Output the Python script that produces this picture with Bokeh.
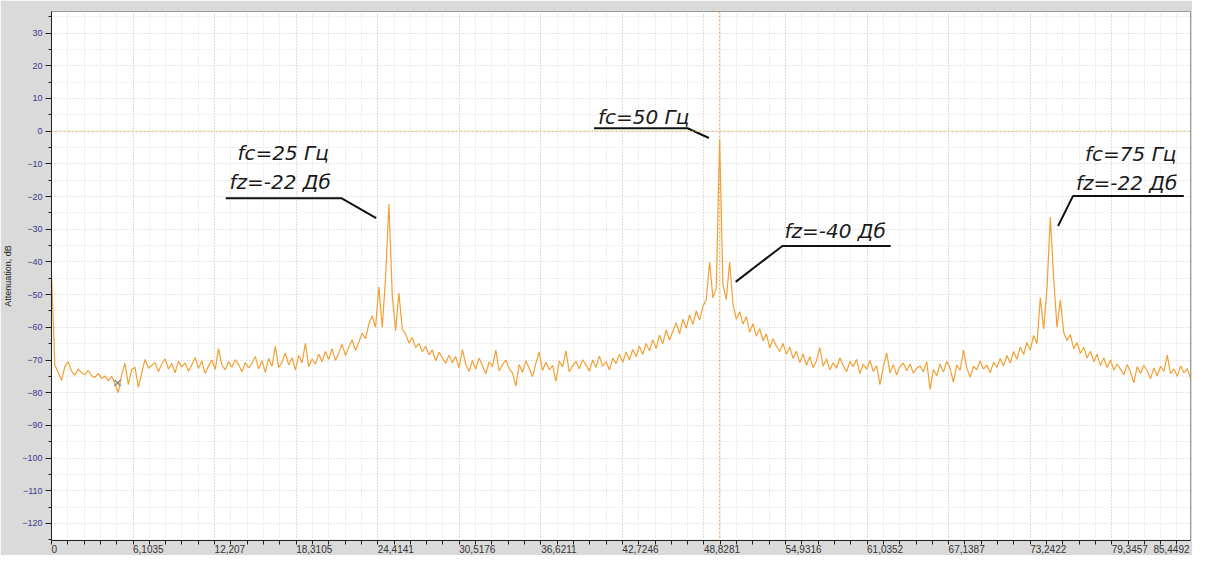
import numpy as np
from bokeh.plotting import figure
from bokeh.models import FixedTicker, Span, Range1d, ColumnDataSource
from bokeh.core.properties import value
from bokeh.embed import file_html
from bokeh.resources import INLINE

# ---------------- data ----------------
bin_step_hz = 0.25
attenuation_db = [
    -44.0, -71.5, -73.8, -76.2, -72.0, -70.5, -73.4, -74.6, -72.8, -73.9, -74.5, -73.2, -74.8, -75.3, -74.1, -75.6, -74.9, -76.3, -75.0, -77.2,
    -80.0, -74.5, -71.0, -77.5, -73.0, -72.2, -78.4, -74.0, -69.8, -72.5, -71.6, -70.8, -73.5, -71.2, -69.6, -72.8, -71.0, -73.9, -70.4, -72.1,
    -70.9, -73.4, -71.5, -69.2, -72.6, -70.3, -74.1, -71.8, -70.0, -72.9, -66.5, -71.6, -73.0, -70.5, -72.2, -69.9, -71.4, -73.6, -70.8, -72.4,
    -71.1, -68.9, -72.7, -70.2, -73.8, -69.5, -71.9, -65.8, -72.3, -70.6, -67.8, -71.5, -69.3, -73.1, -68.6, -70.9, -64.9, -72.0, -69.7, -71.3,
    -68.2, -70.5, -67.4, -69.8, -66.5, -70.1, -67.9, -65.2, -68.6, -66.0, -63.8, -67.1, -64.5, -61.8, -63.5, -59.0, -56.5, -60.0, -47.6, -60.0,
    -45.0, -22.3, -50.0, -61.0, -49.5, -60.5, -62.0, -64.8, -63.1, -66.2, -64.9, -67.5, -65.8, -68.4, -66.9, -70.2, -67.6, -69.3, -71.0, -68.5,
    -70.8, -68.9, -72.4, -66.8, -71.2, -73.5, -70.1, -72.8, -69.4, -71.7, -74.2, -70.6, -72.0, -67.0, -73.3, -71.5, -70.0, -72.6, -74.0, -78.0,
    -71.4, -73.8, -70.2, -72.5, -75.1, -71.0, -67.5, -73.2, -70.7, -72.9, -71.6, -76.5, -70.3, -72.1, -67.2, -73.6, -71.8, -70.4, -72.7, -69.9,
    -71.5, -73.4, -70.0, -72.2, -68.8, -71.9, -70.5, -73.0, -69.4, -71.1, -68.2, -70.7, -67.6, -69.9, -66.8, -69.0, -65.7, -68.3, -64.9, -67.2,
    -63.8, -66.5, -62.4, -65.0, -60.8, -63.9, -61.2, -58.6, -62.0, -57.5, -60.3, -56.2, -59.1, -55.0, -57.8, -53.6, -51.5, -40.0, -51.0, -48.0,
    -2.5, -47.0, -51.5, -40.0, -53.0, -57.5, -55.2, -59.0, -56.8, -61.5, -58.9, -62.7, -60.4, -64.1, -62.0, -66.3, -63.5, -65.8, -67.4, -64.9,
    -68.2, -66.0, -69.5, -67.3, -70.8, -68.1, -71.6, -69.0, -72.4, -70.2, -66.2, -71.9, -69.6, -73.0, -70.8, -72.5, -69.3, -71.7, -73.6, -70.4,
    -72.0, -69.8, -74.1, -71.3, -72.8, -70.1, -73.5, -71.7, -77.5, -72.2, -67.8, -73.9, -71.4, -74.6, -72.0, -70.9, -73.3, -71.2, -74.0, -72.5,
    -71.8, -73.6, -70.5, -79.0, -72.9, -74.8, -71.2, -73.7, -70.4, -72.6, -76.8, -71.5, -73.2, -67.0, -72.4, -75.3, -71.9, -73.0, -70.2, -72.8,
    -71.6, -73.9, -70.7, -72.3, -69.5, -71.8, -68.6, -70.9, -67.4, -69.8, -66.0, -68.3, -64.6, -66.9, -62.5, -65.0, -51.0, -60.5, -48.0, -26.3,
    -45.0, -60.0, -51.6, -61.5, -64.0, -62.2, -66.5, -64.7, -68.0, -66.1, -69.4, -67.3, -70.5, -68.2, -71.7, -69.4, -72.3, -70.0, -73.1, -71.2,
    -72.8, -74.5, -71.4, -73.6, -77.0, -72.0, -74.1, -71.6, -73.3, -75.7, -72.4, -74.8, -71.9, -73.5, -68.5, -74.2, -72.7, -75.0, -71.8, -73.9,
    -72.6, -75.8, -73.1, -74.4,
]
freq_hz = np.arange(len(attenuation_db)) * bin_step_hz

x_tick_step = 6.103515625
x_tick_labels = ["0", "6,1035", "12,207", "18,3105", "24,4141", "30,5176", "36,6211",
                 "42,7246", "48,8281", "54,9316", "61,0352", "67,1387", "73,2422",
                 "79,3457", "85,4492"]
y_ticks = [30, 20, 10, 0, -10, -20, -30, -40, -50, -60, -70, -80, -90, -100, -110, -120]

cursor_freq = 50.0
cursor_db = 0.0
marker_freq = [4.95]
marker_db = [-77.0]

ann_texts = ["fc=25 Гц", "fz=-22 Дб", "fc=50 Гц", "fz=-40 Дб", "fc=75 Гц", "fz=-22 Дб"]

# -------------- layout / annotation geometry --------------
x_start, x_end = 0.0, 85.24
y_start, y_end = -125.2, 36.6
ann_x = [13.92, 13.32, 40.89, 54.86, 77.35, 76.67]
ann_y = [-6.7, -15.6, 4.3, -30.5, -7.0, -15.9]
callout_xs = [[13.04, 21.69, 24.30], [40.6, 47.6, 49.2], [62.8, 54.7, 51.2], [84.74, 76.45, 75.33]]
callout_ys = [[-20.5, -20.5, -26.6], [0.9, 0.9, -2.1], [-35.1, -35.1, -46.1], [-19.8, -19.8, -29.0]]

FIG_W, FIG_H = 1192, 555
BL, BR, BT, BB = 49, 2, 11, 14
px_per_hz = (FIG_W - BL - BR) / (x_end - x_start)
label_font_px = 10
char_em = {",": 0.278}

def text_px(s):
    return sum(char_em.get(c, 0.556) for c in s) * label_font_px

p = figure(width=FIG_W, height=FIG_H,
           x_range=Range1d(x_start, x_end), y_range=Range1d(y_start, y_end),
           output_backend="svg", toolbar_location=None,
           min_border_left=BL, min_border_right=BR, min_border_top=BT, min_border_bottom=BB,
           background_fill_color="white", border_fill_color="#dadada",
           outline_line_color="#9a9a9a")

# x axis: labels start at their tick (left aligned) -> label anchors shifted by half width
xt = [k * x_tick_step for k in range(len(x_tick_labels))]
xminor = [k * x_tick_step / 5 for k in range(5 * (len(x_tick_labels) - 1) + 1)]
anchors = []
for t, lab in zip(xt, x_tick_labels):
    hw = text_px(lab) / 2 / px_per_hz
    a = min(t + hw, x_end - hw - 1.0 / px_per_hz)
    anchors.append(a)
p.xaxis.ticker = FixedTicker(ticks=anchors, minor_ticks=xminor)
p.xaxis.major_label_overrides = {a: lab for a, lab in zip(anchors, x_tick_labels)}
p.xaxis.major_label_text_font = "Liberation Sans"
p.xaxis.major_label_text_font_size = f"{label_font_px}px"
p.xaxis.major_label_text_color = "#333333"
p.xaxis.major_label_standoff = 0
p.xaxis.major_tick_out = 4
p.xaxis.major_tick_in = 0
p.xaxis.major_tick_line_color = None
p.xaxis.minor_tick_out = 4
p.xaxis.minor_tick_in = 0
p.xaxis.axis_line_color = "#222222"
p.xaxis.minor_tick_line_color = "#222222"
p.xgrid.ticker = FixedTicker(ticks=xt, minor_ticks=xminor)

# y axis
yminor = [v - 5 for v in y_ticks] + [35]
p.yaxis.ticker = FixedTicker(ticks=y_ticks, minor_ticks=yminor)
p.yaxis.major_label_text_font = "Liberation Sans"
p.yaxis.major_label_text_font_size = "9px"
p.yaxis.major_label_text_color = "#3a3a8c"
p.yaxis.major_label_standoff = 3
p.yaxis.major_tick_out = 6
p.yaxis.major_tick_in = 0
p.yaxis.minor_tick_out = 3
p.yaxis.minor_tick_in = 0
p.yaxis.axis_line_color = "#222222"
p.yaxis.major_tick_line_color = "#222222"
p.yaxis.minor_tick_line_color = "#222222"
p.yaxis.axis_label = "Attenuation, dB"
p.yaxis.axis_label_text_font = "Liberation Sans"
p.yaxis.axis_label_text_font_size = "9px"
p.yaxis.axis_label_text_font_style = "normal"
p.yaxis.axis_label_text_color = "#222222"
p.yaxis.axis_label_standoff = 6

# grids
for g in (p.xgrid, p.ygrid):
    g.grid_line_color = "#cdcdcd"
    g.grid_line_dash = "1 2"
    g.minor_grid_line_color = "#dadada"
    g.minor_grid_line_dash = "1 2"

# cursor lines
p.add_layout(Span(location=cursor_db, dimension="width", line_color="#e6b468",
                  line_dash="2 2", line_width=1))
p.add_layout(Span(location=cursor_freq, dimension="height", line_color="#f0a040",
                  line_dash="2 2", line_width=1))

# spectrum trace
p.line(freq_hz, attenuation_db, line_color="#f2a033", line_width=1.2)

# marker
p.scatter(marker_freq, marker_db, marker="x", size=9, line_color="#8a8a8a", line_width=1.5)

# callouts
p.multi_line(callout_xs, callout_ys, line_color="#111111", line_width=2)
src = ColumnDataSource(dict(x=ann_x, y=ann_y, t=ann_texts))
p.text(x="x", y="y", text="t", source=src, text_font=value("DejaVu Sans"),
       text_font_style="italic", text_font_size="20px", text_color="#1a1a1a",
       text_align="left", text_baseline="middle")

open("out.html", "w").write(file_html(p, INLINE))
